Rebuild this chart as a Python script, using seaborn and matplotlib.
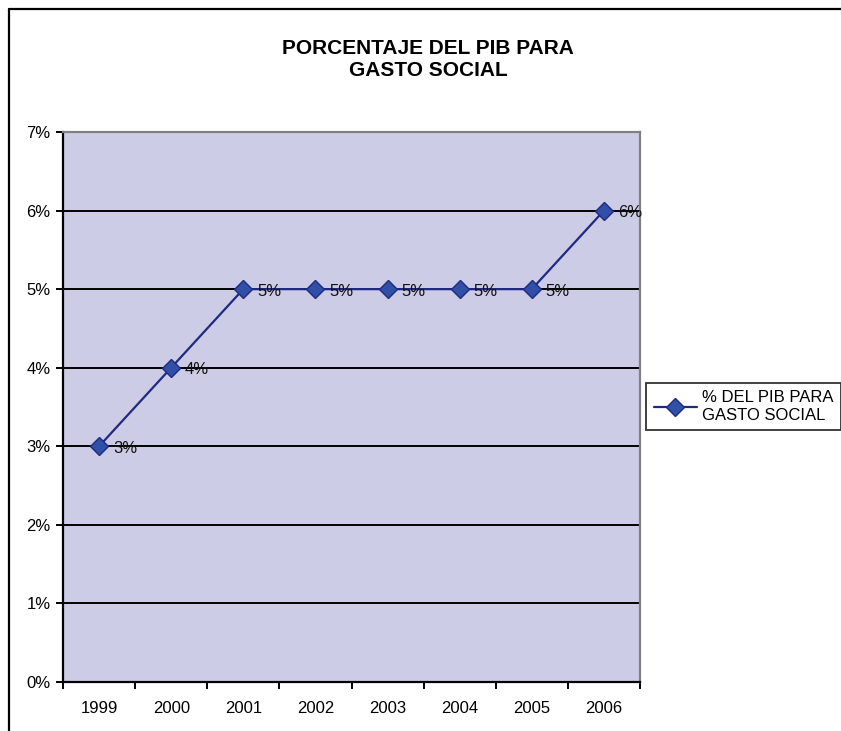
import matplotlib
matplotlib.use("Agg")
import matplotlib.pyplot as plt
import seaborn as sns
import pandas as pd
from matplotlib.lines import Line2D
from matplotlib.ticker import FuncFormatter

# Data
years = ["1999", "2000", "2001", "2002", "2003", "2004", "2005", "2006"]
gasto_social = [0.03, 0.04, 0.05, 0.05, 0.05, 0.05, 0.05, 0.06]
serie_label = "% DEL PIB PARA\nGASTO SOCIAL"
titulo = "PORCENTAJE DEL PIB PARA\nGASTO SOCIAL"

df = pd.DataFrame({"anio": years, "valor": gasto_social})

sns.set_style("white")
plt.rcParams["font.family"] = ["Liberation Sans", "DejaVu Sans"]
plt.rcParams["text.color"] = "black"
plt.rcParams["xtick.color"] = "black"
plt.rcParams["ytick.color"] = "black"

fig = plt.figure(figsize=(8.41, 7.31), dpi=100)
ax = fig.add_axes([63 / 841, 1 - 682 / 731, (640 - 63) / 841, (682 - 132) / 731])
ax.set_facecolor("#CCCCE6")

ax.set_ylim(0, 0.07)
ax.set_xlim(-0.5, len(years) - 0.5)

# gridlines
for v in [0.01, 0.02, 0.03, 0.04, 0.05, 0.06]:
    ax.axhline(v, color="black", lw=1.4, zorder=1)

sns.lineplot(data=df, x="anio", y="valor", ax=ax, color="#1F2A80", lw=1.6,
             marker="D", markersize=9.5, markerfacecolor="#3050A8",
             markeredgecolor="#1F2A80", markeredgewidth=1, zorder=3,
             label=serie_label, legend=False)

for i, v in enumerate(gasto_social):
    ax.annotate(f"{round(v * 100)}%", (i, v), xytext=(10, -1.5), textcoords="offset points",
                ha="left", va="center", fontsize=12, color="#111111", zorder=4)

ax.yaxis.set_major_formatter(FuncFormatter(lambda v, p: f"{round(v * 100)}%"))
ax.set_yticks([i / 100 for i in range(8)])
ax.tick_params(axis="y", direction="out", length=5, width=1.4, labelsize=12, pad=4, left=True)

ax.set_xticks([i - 0.5 for i in range(len(years) + 1)])
ax.set_xticklabels([""] * (len(years) + 1))
ax.set_xticks(range(len(years)), minor=True)
ax.set_xticklabels(years, minor=True)
ax.tick_params(axis="x", which="major", direction="out", length=5, width=1.4, bottom=True)
ax.tick_params(axis="x", which="minor", length=0, labelsize=12, pad=14)

ax.set_xlabel("")
ax.set_ylabel("")
for s in ["left", "bottom"]:
    ax.spines[s].set_color("black")
    ax.spines[s].set_linewidth(1.6)
for s in ["top", "right"]:
    ax.spines[s].set_color("#808080")
    ax.spines[s].set_linewidth(1.6)

fig.text(428 / 841, 1 - 60 / 731, titulo, ha="center", va="center",
         fontsize=15, fontweight="bold", linespacing=1.2)

handle = Line2D([], [], color="#1F2A80", lw=1.6, marker="D", markersize=9.5,
                markerfacecolor="#3050A8", markeredgecolor="#1F2A80")
leg = fig.legend([handle], [serie_label], loc="upper right",
                 bbox_to_anchor=(841 / 841, 1 - 383 / 731), frameon=True,
                 fancybox=False, fontsize=12, handlelength=2.6, borderpad=0.45,
                 handletextpad=0.3, borderaxespad=0, labelspacing=0.2)
leg.get_frame().set_edgecolor("black")
leg.get_frame().set_linewidth(1.3)

# outer chart frame (clipped at right and bottom)
fig.add_artist(Line2D([8.5 / 841, 8.5 / 841], [0, 1 - 8.5 / 731], color="black", lw=1.6,
                      transform=fig.transFigure))
fig.add_artist(Line2D([8.5 / 841, 1], [1 - 8.5 / 731, 1 - 8.5 / 731], color="black", lw=1.6,
                      transform=fig.transFigure))

fig.savefig("out.png", dpi=100)
